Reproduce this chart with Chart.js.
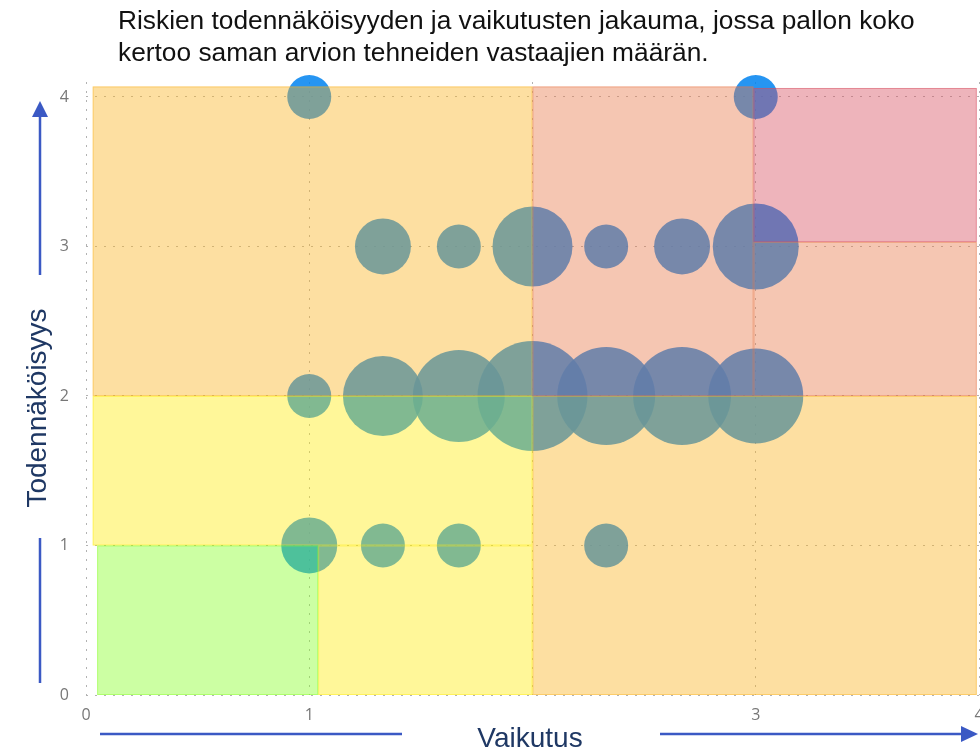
<!DOCTYPE html>
<html>
<head>
<meta charset="utf-8">
<script src="https://cdn.jsdelivr.net/npm/chart.js@4/dist/chart.umd.min.js"></script>
<style>
  html, body { margin: 0; padding: 0; background: #fff; overflow: hidden; }
  #wrap { position: relative; width: 990px; height: 749px; }
  #riskChart { position: absolute; left: 0; top: 0; }
  #title {
    position: absolute; left: 118px; top: 4px;
    font: 26.3px "Liberation Sans", Arial, sans-serif; line-height: 32px; color: #111;
    white-space: nowrap;
  }
</style>
</head>
<body>
<div id="wrap">
  <canvas id="riskChart" width="990" height="749"></canvas>
  <div id="title">Riskien todennäköisyyden ja vaikutusten jakauma, jossa pallon koko<br>kertoo saman arvion tehneiden vastaajien määrän.</div>
</div>
<script>
// --- data ---
const xTicks = [0, 1, 2, 3, 4];
const xTickLabels = ["0", "1", "", "3", "4"];
const yTicks = [0, 1, 2, 3, 4];
const yTickLabels = ["0", "1", "2", "3", "4"];

// impact (x), likelihood (y), bubble radius
const impact     = [1, 3,  1.33, 1.67, 2, 2.33, 2.67, 3,  1, 1.33, 1.67, 2, 2.33, 2.67, 3,  1, 1.33, 1.67, 2.33];
const likelihood = [4, 4,  3, 3, 3, 3, 3, 3,              2, 2, 2, 2, 2, 2, 2,              1, 1, 1, 1];
const radius     = [22, 22, 28, 22, 40, 22, 28, 43,       22, 40, 46, 55, 49, 49, 47.5,     28, 22, 22, 22];

// risk zones: [xMin, xMax, yMin, yMax]
const zones = [
  [0.03, 2, 2, 4.07],     // orange
  [2, 3.99, 0, 2],        // orange
  [0.03, 2, 1, 2],        // yellow
  [1.04, 2, 0, 1],        // yellow
  [0.05, 1.04, 0, 1],     // green
  [2, 2.99, 2, 4.07],     // salmon
  [2.99, 3.99, 2, 3.03],  // salmon
  [2.99, 3.99, 3.03, 4.06] // red
];
const zoneColors = [
  "rgba(250,178,30,0.42)",
  "rgba(250,178,30,0.42)",
  "rgba(255,236,12,0.42)",
  "rgba(255,236,12,0.42)",
  "rgba(133,255,36,0.42)",
  "rgba(231,119,71,0.42)",
  "rgba(231,119,71,0.42)",
  "rgba(214,76,93,0.42)"
];

const points = impact.map((x, i) => ({ x: x, y: likelihood[i], r: radius[i] }));

// boxes drawn over the bubbles
const zonesPlugin = {
  id: "zones",
  afterDatasetsDraw(chart) {
    const { ctx, scales: { x, y } } = chart;
    ctx.save();
    zones.forEach((z, i) => {
      const l = x.getPixelForValue(z[0]), r = x.getPixelForValue(z[1]);
      const t = y.getPixelForValue(z[3]), b = y.getPixelForValue(z[2]);
      ctx.fillStyle = zoneColors[i];
      ctx.fillRect(l, t, r - l, b - t);
      ctx.strokeStyle = zoneColors[i];
      ctx.lineWidth = 1;
      ctx.strokeRect(l + 0.5, t + 0.5, r - l - 1, b - t - 1);
    });
    ctx.restore();
  }
};

// axis titles and arrows
const decoPlugin = {
  id: "deco",
  afterDraw(chart) {
    const ctx = chart.ctx;
    const blue = "rgb(59,89,196)";
    ctx.save();
    ctx.strokeStyle = blue;
    ctx.fillStyle = blue;
    ctx.lineWidth = 2.5;
    ctx.beginPath();
    ctx.moveTo(40, 683); ctx.lineTo(40, 538);
    ctx.moveTo(40, 275); ctx.lineTo(40, 114);
    ctx.moveTo(100, 734); ctx.lineTo(402, 734);
    ctx.moveTo(660, 734); ctx.lineTo(964, 734);
    ctx.stroke();
    ctx.beginPath();
    ctx.moveTo(40, 101); ctx.lineTo(32, 117); ctx.lineTo(48, 117); ctx.closePath();
    ctx.moveTo(978, 734); ctx.lineTo(961, 726); ctx.lineTo(961, 742); ctx.closePath();
    ctx.fill();

    ctx.fillStyle = "#1f3864";
    ctx.font = '28px "Liberation Sans", Arial, sans-serif';
    ctx.textAlign = "center";
    ctx.textBaseline = "alphabetic";
    ctx.fillText("Vaikutus", 530, 747);
    ctx.translate(46, 408);
    ctx.rotate(-Math.PI / 2);
    ctx.fillText("Todennäköisyys", 0, 0);
    ctx.restore();
  }
};

const gridStyle = {
  color: "rgba(170,170,170,0.9)",
  lineWidth: 1,
  drawTicks: false
};

new Chart(document.getElementById("riskChart"), {
  type: "bubble",
  data: {
    datasets: [{
      data: points,
      backgroundColor: "rgba(0,130,240,0.85)",
      borderWidth: 0,
      hoverBorderWidth: 0,
      clip: false
    }]
  },
  options: {
    responsive: false,
    animation: false,
    layout: { autoPadding: false, padding: { top: 82, right: 11, left: 0, bottom: 0 } },
    plugins: { legend: { display: false }, tooltip: { enabled: false } },
    scales: {
      x: {
        type: "linear", min: 0, max: 4,
        afterBuildTicks: s => { s.ticks = xTicks.map(v => ({ value: v })); },
        afterFit: s => { s.height = 54; s.paddingLeft = 0; s.paddingRight = 0; },
        grid: gridStyle,
        border: { display: false, dash: [2, 7] },
        ticks: {
          padding: 11,
          color: "#777",
          font: { family: '"Open Sans", sans-serif', size: 16 },
          maxRotation: 0,
          autoSkip: false,
          callback: (v, i) => xTickLabels[i]
        }
      },
      y: {
        type: "linear", min: 0, max: 4.1,
        afterBuildTicks: s => { s.ticks = yTicks.map(v => ({ value: v })); },
        afterFit: s => { s.width = 86; },
        grid: gridStyle,
        border: { display: false, dash: [2, 7] },
        ticks: {
          padding: 17,
          color: "#777",
          font: { family: '"Open Sans", sans-serif', size: 16 },
          callback: (v, i) => yTickLabels[i]
        }
      }
    }
  },
  plugins: [zonesPlugin, decoPlugin]
});
</script>
</body>
</html>
